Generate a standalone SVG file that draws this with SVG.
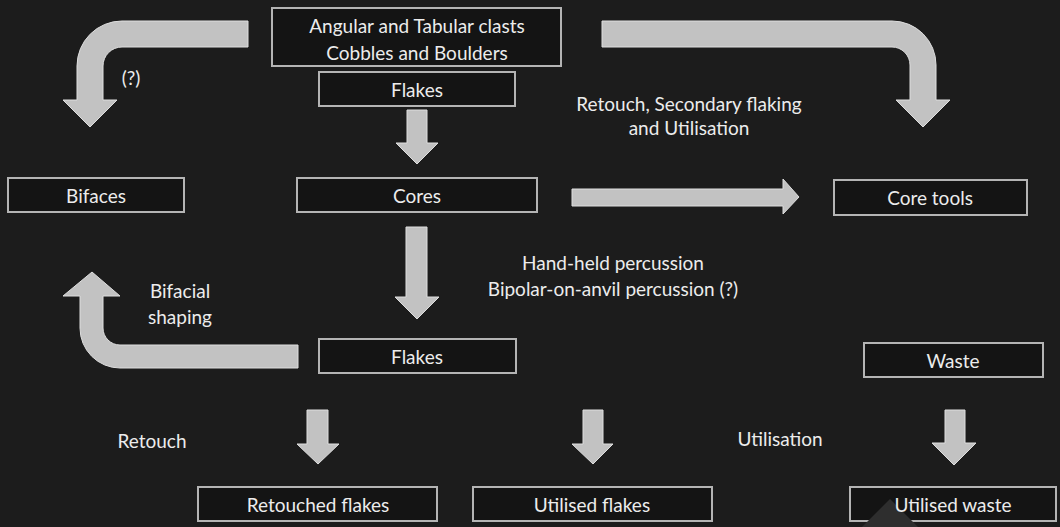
<svg xmlns="http://www.w3.org/2000/svg" width="1060" height="527" viewBox="0 0 1060 527">
<style>
.box{fill:#141414;stroke:#b4b4b4;stroke-width:2}
.t{font-family:Lato,"Open Sans",sans-serif;font-size:19px;fill:#ececec;text-anchor:middle;dominant-baseline:central}
.arr{fill:#c2c2c2;stroke:#dedede;stroke-width:1;stroke-linejoin:miter}
</style>
<rect width="1060" height="527" fill="#1c1c1c"/>
<g id="connectors">
<path class="arr" d="M 602 21 L 892 21 A 44 44 0 0 1 936 65 L 936 100 L 950 100 L 923 127 L 896 100 L 910 100 L 910 65 A 18 18 0 0 0 892 47 L 602 47 Z"/>
<path class="arr" d="M 248 21 L 122 21 A 45 45 0 0 0 77 66 L 77 100 L 63 100 L 90 127 L 117 100 L 103 100 L 103 66 A 19 19 0 0 1 122 47 L 248 47 Z"/>
<path class="arr" d="M 298 345 L 120 345 A 17 17 0 0 1 103 328 L 103 296 L 120 296 L 92 272 L 63 296 L 80 296 L 80 328 A 40 40 0 0 0 120 368 L 298 368 Z"/>
<path class="arr" d="M 407 110 L 427 110 L 427 143 L 438 143 L 417 164 L 396 143 L 407 143 Z"/>
<path class="arr" d="M 406 227 L 427 227 L 427 297 L 439 297 L 417 319 L 395 297 L 406 297 Z"/>
<path class="arr" d="M 572 189 L 783 189 L 783 179 L 799 197 L 783 214 L 783 206 L 572 206 Z"/>
<path class="arr" d="M 307 410 L 328 410 L 328 444 L 339 444 L 318 464 L 297 444 L 307 444 Z"/>
<path class="arr" d="M 583 410 L 603 410 L 603 444 L 613 444 L 593 464 L 572 444 L 583 444 Z"/>
<path class="arr" d="M 945 410 L 965 410 L 965 443 L 976 443 L 954 465 L 932 443 L 945 443 Z"/>
</g>
<g id="labels">
<text class="t" x="131" y="77">(?)</text>
<text class="t" x="689" y="103">Retouch, Secondary flaking</text>
<text class="t" x="689" y="127">and Utilisation</text>
<text class="t" x="613" y="262">Hand-held percussion</text>
<text class="t" x="613" y="288">Bipolar-on-anvil percussion (?)</text>
<text class="t" x="180" y="290">Bifacial</text>
<text class="t" x="180" y="316">shaping</text>
<text class="t" x="152" y="440">Retouch</text>
<text class="t" x="780" y="438">Utilisation</text>
</g>
<g id="n-source">
<rect class="box" x="272" y="8" width="289" height="58"/>
<text class="t" x="417" y="25">Angular and Tabular clasts</text>
<text class="t" x="417" y="52">Cobbles and Boulders</text>
</g>
<g id="n-flakes-top"><rect class="box" x="319" y="72" width="196" height="34"/><text class="t" x="417" y="89">Flakes</text></g>
<g id="n-bifaces"><rect class="box" x="8" y="178" width="176" height="34"/><text class="t" x="96" y="195">Bifaces</text></g>
<g id="n-cores"><rect class="box" x="297" y="178" width="240" height="34"/><text class="t" x="417" y="195">Cores</text></g>
<g id="n-coretools"><rect class="box" x="834" y="180" width="193" height="35"/><text class="t" x="930" y="197">Core tools</text></g>
<g id="n-flakes"><rect class="box" x="319" y="339" width="197" height="34"/><text class="t" x="417" y="356">Flakes</text></g>
<g id="n-waste"><rect class="box" x="864" y="343" width="179" height="34"/><text class="t" x="953" y="360">Waste</text></g>
<g id="n-retouched"><rect class="box" x="198" y="487" width="239" height="34"/><text class="t" x="318" y="504">Retouched flakes</text></g>
<g id="n-utilised-flakes"><rect class="box" x="473" y="487" width="239" height="34"/><text class="t" x="592" y="504">Utilised flakes</text></g>
<g id="n-utilised-waste"><rect class="box" x="850" y="487" width="206" height="34"/><polygon points="890,499 918,527 862,527" fill="#2e2e2e"/><text class="t" x="953" y="504">Utilised waste</text></g>
</svg>
